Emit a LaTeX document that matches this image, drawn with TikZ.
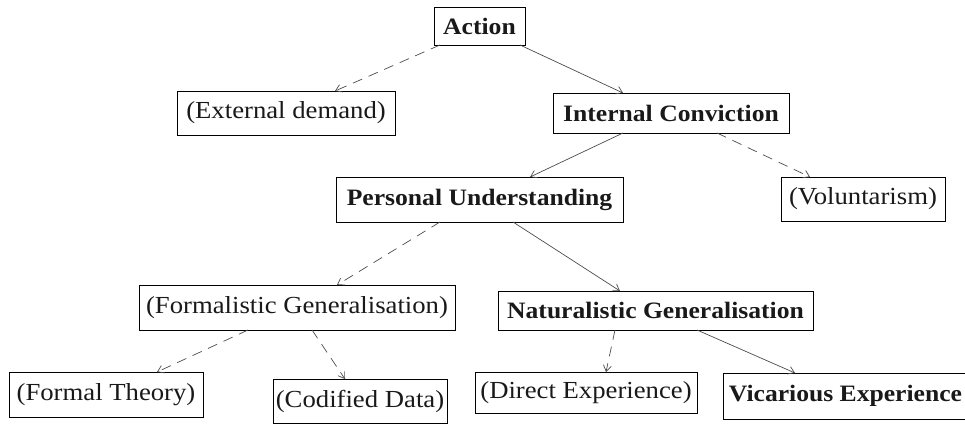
\documentclass[tikz,border=0pt]{standalone}
\usepackage{fontspec}
\setmainfont[FakeStretch=1.09]{Liberation Serif}
\usetikzlibrary{arrows.meta}
\tikzset{
  box/.style={draw=black, line width=0.8pt, inner sep=0pt, outer sep=0pt,
    font=\fontsize{24.5}{28}\selectfont, text=black!90},
  boldbox/.style={box, font=\fontsize{23.5}{27}\selectfont\bfseries},
  link/.style={draw=black!70, line width=0.7pt,
    -{Straight Barb[length=6pt,width=8pt,line width=0.7pt]}},
  optional/.style={link, dash pattern=on 10pt off 7pt}
}
\begin{document}
\begin{tikzpicture}[x=1pt,y=1pt]
\useasboundingbox (0,0) rectangle (965,424);

\node[boldbox, minimum width=91pt, minimum height=38pt] (act) at (479.5,398) {Action};
\node[box, minimum width=218pt, minimum height=44pt] (ext) at (286,311) {(External demand)};
\node[boldbox, minimum width=236pt, minimum height=40pt] (int) at (671,311) {Internal Conviction};
\node[boldbox, minimum width=287pt, minimum height=45pt] (pu) at (479.5,224.5) {Personal Understanding};
\node[box, minimum width=164pt, minimum height=44pt] (vol) at (863,225) {(Voluntarism)};
\node[box, minimum width=316pt, minimum height=45pt] (form) at (297,116.5) {(Formalistic Generalisation)};
\node[boldbox, minimum width=315pt, minimum height=39pt] (nat) at (655.5,113.5) {Naturalistic Generalisation};
\node[box, minimum width=194pt, minimum height=45pt] (ft) at (106,29.5) {(Formal Theory)};
\node[box, minimum width=174pt, minimum height=44pt] (cod) at (360,23) {(Codified Data)};
\node[box, minimum width=222pt, minimum height=41pt] (dir) at (586,31.5) {(Direct Experience)};
\node[boldbox, minimum width=245pt, minimum height=46pt] (vic) at (845.5,28) {Vicarious Experience};

% first level
\draw[optional] ([xshift=-39.5pt]act.south) -- ([xshift=49pt]ext.north);
\draw[link] ([xshift=40.5pt]act.south) -- ([xshift=-48pt]int.north);
% second level
\draw[link] ([xshift=-48pt]int.south) -- ([xshift=50.5pt]pu.north);
\draw[optional] ([xshift=46pt]int.south) -- ([xshift=-53pt]vol.north);
% third level
\draw[optional] ([xshift=-39.5pt]pu.south) -- ([xshift=40pt]form.north);
\draw[link] ([xshift=33.5pt]pu.south) -- ([xshift=-35.5pt]nat.north);
% leaves
\draw[optional] ([xshift=-49pt]form.south) -- ([xshift=51pt]ft.north);
\draw[optional] ([xshift=15pt]form.south) -- ([xshift=-15pt]cod.north);
\draw[optional] ([xshift=-40.5pt]nat.south) -- ([xshift=20pt]dir.north);
\draw[link] ([xshift=41.5pt]nat.south) -- ([xshift=-50.5pt]vic.north);
\end{tikzpicture}
\end{document}
